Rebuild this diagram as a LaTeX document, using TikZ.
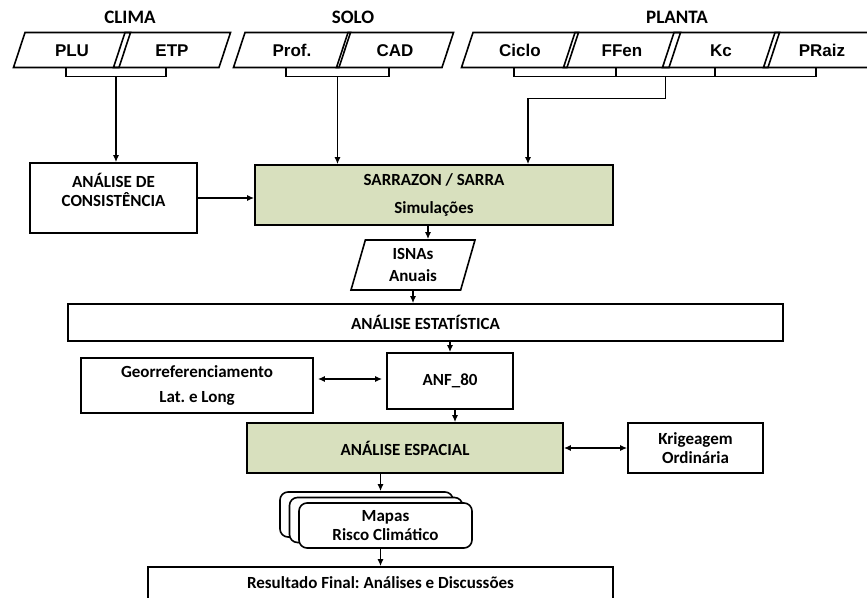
\documentclass[tikz,border=0pt]{standalone}
\usepackage{fontspec}
\setmainfont{Carlito}
\newfontfamily\parfont{Liberation Sans}
\usepackage{xcolor}
\usepackage{tikz}
\usetikzlibrary{shapes.geometric,shadows,calc,arrows.meta}
\definecolor{verde}{RGB}{216,224,190}
\frenchspacing

\begin{document}
\begin{tikzpicture}[x=1pt, y=-1pt, line width=1.6pt,
        >={Latex[length=7pt,width=6pt]},
        every node/.style={font=\bfseries\fontsize{17}{19.5}\selectfont},
        caixa/.style={draw, rectangle, align=center, inner sep=2pt},
        titulo/.style={font=\bfseries\fontsize{19}{21}\selectfont},
        param/.style={draw, trapezium, trapezium left angle=59, trapezium right angle=121,
            minimum height=35pt, minimum width=117pt, trapezium stretches body,
            text height=12.5pt, text depth=0pt,
            font=\parfont\bfseries\fontsize{17}{19}\selectfont}]
        \clip (0,0) rectangle (867,597);
        % entradas
        \foreach \nome/\x/\rot in {PLU/72/PLU, ETP/172/ETP, Prof/292/Prof., CAD/395/CAD, Ciclo/520/Ciclo, FFen/622/FFen, Kc/721/Kc, PRaiz/822/PRaiz}
            { \node[param] (\nome) at (\x,50) {\rot}; }
        \node[titulo] (clima) at (130,17) {CLIMA};
        \node[titulo] (solo) at (353,17) {SOLO};
        \node[titulo] (planta) at (677,17) {PLANTA};
        % caixas
        \node[caixa, minimum width=167pt, minimum height=70pt] (CONS) at (113.5,198) {AN\'ALISE DE\\CONSIST\^ENCIA\\[-3pt]~};
        \node[caixa, fill=verde, minimum width=358pt, minimum height=60pt] (SARRA) at (434,195) {SARRAZON / SARRA\\[9pt]Simula\c{c}\~oes};
        \node[draw, trapezium, trapezium left angle=70, trapezium right angle=110, minimum height=50pt,
            minimum width=124pt, trapezium stretches body, align=center] (ISNA) at (413,265) {ISNAs\\[2pt]Anuais};
        \node[caixa, minimum width=715pt, minimum height=37pt] (EST) at (425.5,322.5) {AN\'ALISE ESTAT\'ISTICA};
        \node[caixa, minimum width=126pt, minimum height=56pt] (ANF) at (450,381) {ANF\_80};
        \node[caixa, minimum width=232pt, minimum height=55pt] (GEO) at (197,385.5) {Georreferenciamento\\[6pt]Lat. e Long};
        \node[caixa, fill=verde, minimum width=316pt, minimum height=50pt] (ESP) at (405,448) {AN\'ALISE ESPACIAL};
        \node[caixa, minimum width=135pt, minimum height=50pt] (KRI) at (695.5,448) {Krigeagem\\Ordin\'aria};
        \node[caixa, fill=white, rounded corners=8pt, minimum width=173pt, minimum height=45pt,
            double copy shadow={shadow xshift=-9.5pt, shadow yshift=5.5pt}] (MAP) at (385.5,525.5) {Mapas\\Risco Clim\'atico};
        \node[caixa, minimum width=465pt, minimum height=32pt] (RES) at (380.5,583) {Resultado Final: An\'alises e Discuss\~oes};
        % chaves e setas
        \draw (PLU.bottom side) -- ++(0,8) -| (ETP.bottom side);
        \draw (Prof.bottom side) -- ++(0,8) -| (CAD.bottom side);
        \draw (Ciclo.bottom side) -- ++(0,8) -| (PRaiz.bottom side);
        \foreach \nome in {FFen,Kc} { \draw (\nome.bottom side) -- ++(0,8); }
        \coordinate (climaB) at ($(PLU.bottom side)!.5!(ETP.bottom side)+(0,8)$);
        \coordinate (soloB) at ($(Prof.bottom side)!.5!(CAD.bottom side)+(0,8)$);
        \coordinate (plantaB) at ($(FFen.bottom side)!.5!(Kc.bottom side)+(0,8)$);
        \draw[->] (climaB) -- (climaB |- CONS.north);
        \draw[->] (soloB) -- (soloB |- SARRA.north);
        \draw[->] (plantaB) -- ++(0,22) -| ([xshift=94pt]SARRA.north);
        \draw[->] (CONS.east) -- (CONS.east -| SARRA.west);
        \draw[->] ([xshift=15pt]ISNA.north |- SARRA.south) -- ([xshift=15pt]ISNA.north);
        \draw[->] (ISNA.south) -- (ISNA.south |- EST.north);
        \draw[->] (ANF.north |- EST.south) -- (ANF.north);
        \draw[<->, shorten <=4pt, shorten >=4pt] ([yshift=2pt]ANF.west -| GEO.east) -- ([yshift=2pt]ANF.west);
        \draw[->] ([xshift=5pt]ANF.south) -- ([xshift=5pt]ANF.south |- ESP.north);
        \draw[<->] (ESP.east) -- (KRI.west);
        \draw[->] ([xshift=-5pt]MAP.north |- ESP.south) -- ([xshift=-5pt,yshift=11pt]MAP.north);
        \draw[->] ([xshift=-5pt]MAP.south) -- ([xshift=-5pt]MAP.south |- RES.north);
    \end{tikzpicture}
\end{document}
